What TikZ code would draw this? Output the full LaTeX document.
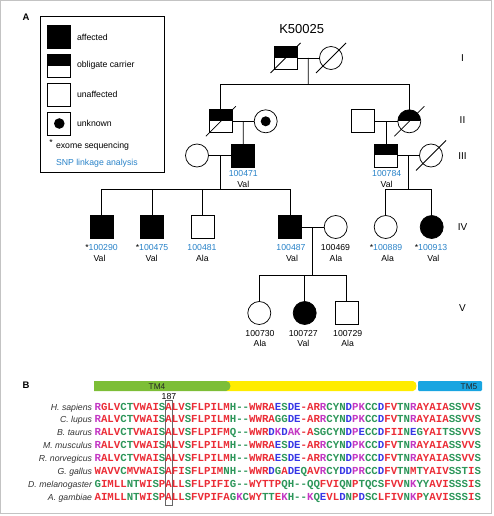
\documentclass[tikz,border=0pt]{standalone}
\usepackage{fontspec}
\setmainfont{Liberation Sans}
\setmonofont{Liberation Mono}
\usetikzlibrary{calc}
\definecolor{idblue}{RGB}{40,130,200}
\definecolor{resR}{RGB}{235,45,55}
\definecolor{resG}{RGB}{45,150,90}
\definecolor{resB}{RGB}{55,55,230}
\definecolor{resM}{RGB}{195,55,195}
\definecolor{tmgreen}{RGB}{125,190,55}
\definecolor{tmyellow}{RGB}{255,236,0}
\definecolor{tmblue}{RGB}{25,165,225}
\definecolor{framegray}{RGB}{195,195,195}
\newcommand{\Xr}{\color{resR}}
\newcommand{\Xg}{\color{resG}}
\newcommand{\Xb}{\color{resB}}
\newcommand{\Xm}{\color{resM}}
\newcommand{\FSz}[1]{\fontsize{#1bp}{#1bp}\selectfont}
\begin{document}
\begin{tikzpicture}[x=1bp,y=-1bp,line width=0.75bp,
  every node/.style={inner sep=0pt,outer sep=0pt},
  male/.style={draw,rectangle,minimum size=23bp},
  female/.style={draw,circle,minimum size=23bp},
  aff/.style={fill=black},
  carrier/.style={path picture={\fill[black] (path picture bounding box.north west) rectangle (path picture bounding box.east);}},
  idl/.style={font=\FSz{8.7},text=idblue},
  bl/.style={font=\FSz{8.7}},
  gen/.style={font=\FSz{10}},
  sp/.style={font=\FSz{8.7}\itshape,text=black!80,anchor=base east},
  seqr/.style={font=\ttfamily\bfseries\FSz{10.73},anchor=base west},
  slashline/.style={line width=0.75bp}]
\useasboundingbox (0,0) rectangle (494,516);
\draw[framegray,line width=1bp] (0.8,0.8) rectangle (491,513);

% panel labels
\node[font=\bfseries\FSz{9.5}] (lblA) at (26,17) {A};
\node[font=\bfseries\FSz{9.5}] (lblB) at (26,385) {B};

% legend
\draw[line width=0.75bp] (40,16.7) rectangle (164.7,172.7);
\node[male,aff] (lg1) at (59.3,37.3) {};
\node[male,carrier] (lg2) at (59.3,66) {};
\node[male] (lg3) at (59.3,95.2) {};
\node[male] (lg4) at (59.3,123.5) {};
\fill (lg4.center) circle (5.3);
\node[bl,anchor=west] (lt1) at (77,37.3) {affected};
\node[bl,anchor=west] (lt2) at (77,65) {obligate carrier};
\node[bl,anchor=west] (lt3) at (77,94.5) {unaffected};
\node[bl,anchor=west] (lt4) at (77,123) {unknown};
\node[bl] (lt5s) at (51,143) {*};
\node[bl,anchor=west] (lt5) at (56,146.5) {exome sequencing};
\node[idl,anchor=west] (lt6) at (56,163.3) {SNP linkage analysis};

% title
\node[font=\FSz{13}] (title) at (301.7,29) {K50025};

% generation labels
\node[gen] (gI) at (462.5,57.7) {I};
\node[gen] (gII) at (462.5,120.5) {II};
\node[gen] (gIII) at (462.5,156.5) {III};
\node[gen] (gIV) at (462.5,226.7) {IV};
\node[gen] (gV) at (462.5,308.3) {V};

% generation I
\node[male,carrier] (i1) at (285.5,58) {};
\node[female] (i2) at (331,58) {};
\draw (i1) -- (i2);
\draw[slashline] ([shift={(-15,15)}]i1.center) -- ([shift={(15,-15)}]i1.center);
\draw[slashline] ([shift={(-15,15)}]i2.center) -- ([shift={(15,-15)}]i2.center);
\coordinate (m1) at ($(i1)!0.5!(i2)$);
\coordinate (s2) at (308.25,84.3);
\draw (m1) -- (s2);

% generation II
\node[male,carrier] (ii1) at (220.8,121.3) {};
\node[female] (ii2) at (265.7,121.3) {};
\fill (ii2.center) circle (5);
\node[male] (ii3) at (363,121.3) {};
\node[female,carrier] (ii4) at (409.3,121.3) {};
\draw (ii1) |- (s2);
\draw (ii4) |- (s2);
\draw (ii1) -- (ii2);
\draw (ii3) -- (ii4);
\draw[slashline] ([shift={(-15,15)}]ii1.center) -- ([shift={(15,-15)}]ii1.center);
\draw[slashline] ([shift={(-15,15)}]ii4.center) -- ([shift={(15,-15)}]ii4.center);
\coordinate (m2) at ($(ii1)!0.5!(ii2)$);
\coordinate (m2b) at ($(ii3)!0.5!(ii4)$);

% generation III
\node[female] (iii1) at (197,155.5) {};
\node[male,aff] (iii2) at (243.25,155.5) {};
\node[male,carrier] (iii3) at (386.15,155.5) {};
\node[female] (iii4) at (431,155.5) {};
\draw (m2) -- (iii2);
\draw (m2b) -- (iii3);
\draw (iii1) -- (iii2);
\draw (iii3) -- (iii4);
\draw[slashline] ([shift={(-15,15)}]iii4.center) -- ([shift={(15,-15)}]iii4.center);
\node[idl] (l100471) at (243.3,173.3) {100471};
\node[bl] (a100471) at (243.3,184) {Val};
\node[idl] (l100784) at (386.7,173.3) {100784};
\node[bl] (a100784) at (386.7,184) {Val};
\coordinate (m3) at ($(iii1)!0.5!(iii2)$);
\coordinate (m3b) at ($(iii3)!0.5!(iii4)$);
\coordinate (s4) at ($(m3)+(0,33.8)$);
\coordinate (s4b) at ($(m3b)+(0,33.8)$);
\draw (m3) -- (s4);
\draw (m3b) -- (s4b);

% generation IV
\node[male,aff] (iv1) at (101.7,227) {};
\node[male,aff] (iv2) at (152,227) {};
\node[male] (iv3) at (202.7,227) {};
\node[male,aff] (iv4) at (290,227) {};
\node[female] (iv5) at (335.7,227) {};
\node[female] (iv6) at (385.7,227) {};
\node[female,aff] (iv7) at (431.7,227) {};
\draw (iv1) |- (s4);
\draw (iv4) |- (s4);
\draw (iv2) -- (iv2 |- s4);
\draw (iv3) -- (iv3 |- s4);
\draw (iv6) |- (s4b);
\draw (iv7) |- (s4b);
\draw (iv4) -- (iv5);
\node[bl] (l100290) at (101.5,247.5) {*\textcolor{idblue}{100290}};
\node[bl] (a100290) at (99.5,258) {Val};
\node[bl] (l100475) at (152,247.5) {*\textcolor{idblue}{100475}};
\node[bl] (a100475) at (151.7,258) {Val};
\node[idl] (l100481) at (202,247.5) {100481};
\node[bl] (a100481) at (202.3,258) {Ala};
\node[idl] (l100487) at (291,247.5) {100487};
\node[bl] (a100487) at (292,258) {Val};
\node[bl] (l100469) at (335.5,247.5) {100469};
\node[bl] (a100469) at (336,258) {Ala};
\node[bl] (l100889) at (386,247.5) {*\textcolor{idblue}{100889}};
\node[bl] (a100889) at (387.7,258) {Ala};
\node[bl] (l100913) at (431,247.5) {*\textcolor{idblue}{100913}};
\node[bl] (a100913) at (433.3,258) {Val};
\coordinate (m4) at ($(iv4)!0.5!(iv5)$);
\coordinate (s5) at ($(m4)+(0,48)$);
\draw (m4) -- (s5);

% generation V
\node[female] (v1) at (259.3,313) {};
\node[female,aff] (v2) at (304.7,313) {};
\node[male] (v3) at (346.7,313) {};
\draw (v1) |- (s5);
\draw (v3) |- (s5);
\draw (v2) -- (v2 |- s5);
\node[bl] (l100730) at (260,333.3) {100730};
\node[bl] (a100730) at (260,343.5) {Ala};
\node[bl] (l100727) at (303.3,333.3) {100727};
\node[bl] (a100727) at (303.3,343.5) {Val};
\node[bl] (l100729) at (347.7,333.3) {100729};
\node[bl] (a100729) at (347.7,343.5) {Ala};

% panel B : domain bar
\fill[tmyellow] (226,381) -- (413,381) to[out=0,in=90] (416.5,386) to[out=-90,in=0] (413,391) -- (226,391) -- cycle;
\fill[tmgreen] (94,381) -- (226,381) to[out=0,in=90] (230.5,386) to[out=-90,in=0] (226,391) -- (94,391) -- cycle;
\fill[tmblue,rounded corners=1.2bp] (418,381) rectangle (482,391);
\node[font=\FSz{8.3},text=black!85] (tm4) at (157,386.2) {TM4};
\node[font=\FSz{8.3},text=black!85] (tm5) at (469,386.2) {TM5};
\node[font=\FSz{8.7}] (pos187) at (169,396.3) {187};
\draw[black!60,line width=0.6bp] (165.6,400) rectangle (171.8,505);

% alignment
\node[sp] (n1) at (92,410) {H. sapiens};
\node[sp] (n2) at (92,422.95) {C. lupus};
\node[sp] (n3) at (92,435.9) {B. taurus};
\node[sp] (n4) at (92,448.85) {M. musculus};
\node[sp] (n5) at (92,461.8) {R. norvegicus};
\node[sp] (n6) at (92,474.75) {G. gallus};
\node[sp] (n7) at (92,487.7) {D. melanogaster};
\node[sp] (n8) at (92,500.65) {A. gambiae};

\node[seqr] (q1) at (94.6,410) {\Xm R\Xr GLV\Xg CT\Xr VWAI\Xg S\Xr ALV\Xg S\Xr FLPILM\Xg H--\Xr WWRA\Xb E\Xg S\Xb DE\Xr -AR\Xm R\Xg CYN\Xb D\Xm PK\Xg CC\Xb D\Xr FV\Xg TN\Xm R\Xr AYAIA\Xg SS\Xr VV\Xg S};
\node[seqr] (q2) at (94.6,422.95) {\Xm R\Xr ALV\Xg CT\Xr VWAI\Xg S\Xr ALV\Xg S\Xr FLPILM\Xg H--\Xr WWRA\Xg GG\Xb DE\Xr -AR\Xm R\Xg CYN\Xb D\Xm PK\Xg CC\Xb D\Xr FV\Xg TN\Xm R\Xr AYAIA\Xg SS\Xr VV\Xg S};
\node[seqr] (q3) at (94.6,435.9) {\Xm R\Xr ALV\Xg CT\Xr VWAI\Xg S\Xr ALV\Xg S\Xr FLPIFM\Xg Q--\Xr WWR\Xb D\Xm K\Xb D\Xm AK\Xr -A\Xg SGCYN\Xb D\Xm P\Xb E\Xg CC\Xb D\Xr FII\Xg N\Xb E\Xg G\Xr YAI\Xg TSS\Xr VV\Xg S};
\node[seqr] (q4) at (94.6,448.85) {\Xm R\Xr ALV\Xg CT\Xr VWAI\Xg S\Xr ALV\Xg S\Xr FLPILM\Xg H--\Xr WWRA\Xb E\Xg S\Xb DE\Xr -AR\Xm R\Xg CYN\Xb D\Xm PK\Xg CC\Xb D\Xr FV\Xg TN\Xm R\Xr AYAIA\Xg SS\Xr VV\Xg S};
\node[seqr] (q5) at (94.6,461.8) {\Xm R\Xr ALV\Xg CT\Xr VWAI\Xg S\Xr ALV\Xg S\Xr FLPILM\Xg H--\Xr WWRA\Xb E\Xg S\Xb DE\Xr -AR\Xm R\Xg CYN\Xb D\Xm PK\Xg CC\Xb D\Xr FV\Xg TN\Xm R\Xr AYAIA\Xg SS\Xr VV\Xg S};
\node[seqr] (q6) at (94.6,474.75) {\Xr WAVV\Xg C\Xr MVWAI\Xg S\Xr AFI\Xg S\Xr FLPIM\Xg NH--\Xr WWR\Xb D\Xg G\Xr A\Xb DE\Xg Q\Xr AV\Xm R\Xg CY\Xb DD\Xm PR\Xg CC\Xb D\Xr FV\Xg TN\Xr M\Xg T\Xr YAIV\Xg SST\Xr I\Xg S};
\node[seqr] (q7) at (94.6,487.7) {\Xg G\Xr IMLL\Xg NT\Xr WI\Xg S\Xr PALL\Xg S\Xr FLPIFI\Xg G--\Xr WYTTP\Xg QH--QQ\Xr FVI\Xg QN\Xr P\Xg TQCS\Xr FVV\Xg N\Xm K\Xg YY\Xr AVI\Xg SSS\Xr I\Xg S};
\node[seqr] (q8) at (94.6,500.65) {\Xr AIMLL\Xg NT\Xr WI\Xg S\Xr PALL\Xg S\Xr FVPIFA\Xg G\Xm K\Xg C\Xr WY\Xg TT\Xr E\Xm K\Xg H--\Xm K\Xg Q\Xb E\Xr VL\Xb D\Xg N\Xr P\Xb D\Xg SC\Xr LFIV\Xg N\Xm K\Xr P\Xg Y\Xr AVI\Xg SSS\Xr I\Xg S};
\end{tikzpicture}
\end{document}
